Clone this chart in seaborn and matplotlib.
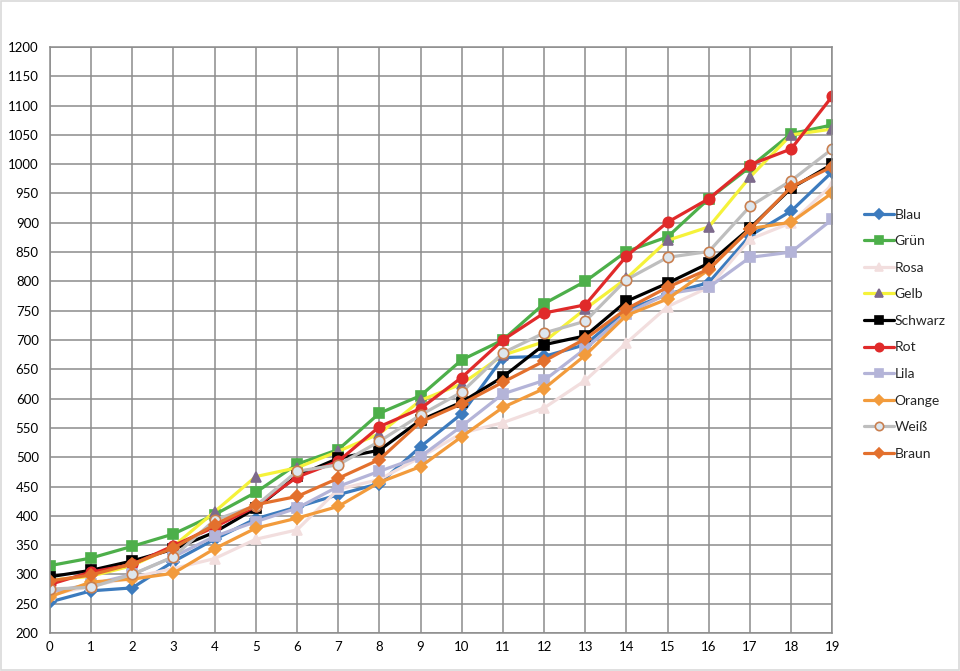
import pandas as pd
import seaborn as sns
import matplotlib.pyplot as plt

# data
x_vals = list(range(20))

blau = [253, 272, 277, 322, 360, 395, 415, 436, 455, 518, 574, 670, 672, 692, 751, 778, 798, 878, 920, 987]
gruen = [315, 328, 348, 369, 402, 440, 488, 513, 575, 605, 666, 700, 762, 800, 851, 876, 941, 995, 1052, 1067]
rosa = [265, 280, 295, 310, 327, 360, 376, 445, 462, 500, 541, 559, 584, 631, 695, 757, 790, 872, 900, 965]
gelb = [290, 297, 315, 348, 407, 467, 482, 510, 540, 597, 625, 674, 697, 753, 805, 870, 893, 978, 1050, 1060]
schwarz = [296, 307, 323, 343, 372, 413, 468, 498, 512, 563, 594, 637, 692, 707, 766, 797, 831, 891, 959, 1000]
rot = [283, 304, 317, 349, 381, 416, 466, 493, 552, 583, 636, 700, 746, 760, 843, 901, 941, 999, 1026, 1116]
lila = [270, 283, 300, 330, 365, 390, 413, 450, 476, 501, 553, 608, 631, 685, 745, 779, 790, 841, 850, 906]
orange = [262, 287, 292, 302, 344, 379, 396, 416, 457, 484, 535, 585, 617, 674, 742, 770, 820, 890, 901, 951]
weiss = [275, 278, 300, 330, 393, 417, 476, 487, 527, 572, 611, 678, 712, 732, 803, 841, 851, 928, 972, 1026]
braun = [289, 299, 318, 345, 385, 419, 433, 464, 496, 560, 591, 628, 664, 702, 753, 790, 821, 889, 961, 996]

names = ["Blau", "Grün", "Rosa", "Gelb", "Schwarz", "Rot", "Lila", "Orange", "Weiß", "Braun"]
series = [blau, gruen, rosa, gelb, schwarz, rot, lila, orange, weiss, braun]

# line colour, marker, marker face, marker edge
styles = {
    "Blau": ("#3C7BBE", "D", "#3C7BBE", "#3C7BBE"),
    "Grün": ("#4DAF4A", "s", "#4DAF4A", "#4DAF4A"),
    "Rosa": ("#F2DEDE", "^", "#F2DEDE", "#F2DEDE"),
    "Gelb": ("#F5F23A", "^", "#7D6A8C", "#7D6A8C"),
    "Schwarz": ("#000000", "s", "#000000", "#000000"),
    "Rot": ("#E02A2A", "o", "#E02A2A", "#E02A2A"),
    "Lila": ("#B4B4D8", "s", "#B4B4D8", "#B4B4D8"),
    "Orange": ("#F29B3C", "D", "#F29B3C", "#F29B3C"),
    "Weiß": ("#BEBEBE", "o", "#DDE6EE", "#C97F4F"),
    "Braun": ("#E3702D", "D", "#E3702D", "#E3702D"),
}

sns.set_style("white")
plt.rcParams["font.family"] = ["Lato", "DejaVu Sans"]

fig = plt.figure(figsize=(9.6, 6.71), dpi=100)
ax = fig.add_axes([0.052, 0.0566, 0.815, 0.8734])

for name, vals in zip(names, series):
    col, mk, face, edge = styles[name]
    ms = 6 if mk == "D" else 7.5
    sns.lineplot(x=x_vals, y=vals, ax=ax, color=col, linewidth=2.3,
                 marker=mk, markersize=ms, markerfacecolor=face,
                 markeredgecolor=edge, markeredgewidth=1.2, label=name)

ax.set_xlim(0, 19)
ax.set_ylim(200, 1200)
ax.set_xticks(range(0, 20))
ax.set_yticks(range(200, 1201, 50))
ax.grid(True, color="#8C8C8C", linewidth=1.1)
ax.set_axisbelow(True)
for s in ax.spines.values():
    s.set_color("#8C8C8C")
    s.set_linewidth(1.1)
ax.tick_params(axis="both", length=0, labelsize=9.5, colors="#000000")
ax.tick_params(axis="x", pad=6)
ax.tick_params(axis="y", pad=8)
ax.set_xlabel("")
ax.set_ylabel("")

leg = ax.legend(loc="center left", bbox_to_anchor=(1.024, 0.51), frameon=False,
                fontsize=10, labelspacing=1.05, handlelength=2.2, handletextpad=0.05,
                markerscale=0.8)

# light outer frame like the chart area border
fig.patches.append(plt.Rectangle((0.001, 0.001), 0.998, 0.997, transform=fig.transFigure,
                                 fill=False, edgecolor="#D9D9D9", linewidth=1.2))

fig.savefig("out.png", dpi=100)
